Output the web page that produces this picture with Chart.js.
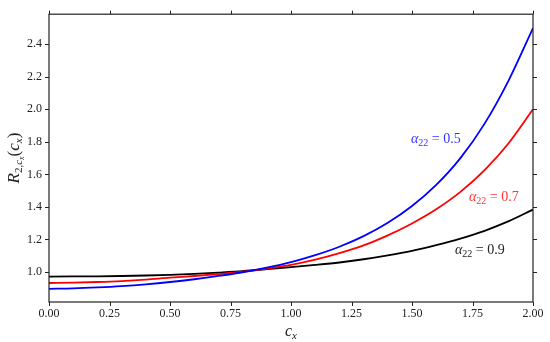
<!DOCTYPE html>
<html>
<head>
<meta charset="utf-8">
<script src="https://cdn.jsdelivr.net/npm/chart.js@4"></script>
<style>
  html, body { margin: 0; padding: 0; background: #fff; }
  #c { display: block; }
</style>
</head>
<body>
<canvas id="c" width="550" height="342"></canvas>
<script>
// values
const cx = [0, 0.1, 0.2, 0.3, 0.4, 0.5, 0.6, 0.7, 0.8, 0.9, 1.0,
            1.1, 1.2, 1.3, 1.4, 1.5, 1.6, 1.7, 1.8, 1.9, 2.0];
const r05 = [0.896, 0.899, 0.905, 0.913, 0.924, 0.938, 0.955, 0.975, 0.998, 1.026, 1.060,
             1.103, 1.155, 1.220, 1.302, 1.405, 1.535, 1.700, 1.912, 2.180, 2.500];
const r07 = [0.932, 0.934, 0.938, 0.944, 0.953, 0.965, 0.975, 0.987, 1.001, 1.020, 1.043,
             1.075, 1.115, 1.163, 1.225, 1.298, 1.385, 1.492, 1.626, 1.793, 2.000];
const r09 = [0.971, 0.972, 0.973, 0.975, 0.978, 0.982, 0.988, 0.996, 1.005, 1.017, 1.030,
             1.043, 1.058, 1.078, 1.102, 1.130, 1.165, 1.205, 1.253, 1.312, 1.383];
const xTicks = [0, 0.25, 0.5, 0.75, 1.0, 1.25, 1.5, 1.75, 2.0];
const yTicks = [1.0, 1.2, 1.4, 1.6, 1.8, 2.0, 2.2, 2.4];

const serif = '"Liberation Serif", "DejaVu Serif", serif';

function pts(ys) {
  return cx.map((x, i) => ({ x: x, y: ys[i] }));
}

// draw a run of text pieces (font, dy) starting at x,y
function rich(ctx, parts, x, y, align) {
  let w = 0;
  parts.forEach(p => { ctx.font = p.f; w += ctx.measureText(p.t).width; });
  let cur = align === 'center' ? x - w / 2 : x;
  ctx.textBaseline = 'alphabetic';
  ctx.textAlign = 'left';
  parts.forEach(p => {
    ctx.font = p.f;
    ctx.fillText(p.t, cur, y + (p.dy || 0));
    cur += ctx.measureText(p.t).width;
  });
}

const frame = {
  id: 'frame',
  afterDraw(chart) {
    const ctx = chart.ctx;
    const a = chart.chartArea;
    const sx = chart.scales.x, sy = chart.scales.y;
    ctx.save();
    ctx.strokeStyle = '#222';
    ctx.lineWidth = 1.2;
    ctx.strokeRect(a.left, a.top, a.right - a.left, a.bottom - a.top);
    ctx.lineWidth = 1;
    ctx.beginPath();
    sx.ticks.forEach(t => {
      const p = Math.round(sx.getPixelForValue(t.value)) + 0.5;
      ctx.moveTo(p, a.bottom); ctx.lineTo(p, a.bottom + 4);
      ctx.moveTo(p, a.top); ctx.lineTo(p, a.top - 3.5);
    });
    sy.ticks.forEach(t => {
      const p = Math.round(sy.getPixelForValue(t.value)) + 0.5;
      ctx.moveTo(a.left, p); ctx.lineTo(a.left - 4, p);
      ctx.moveTo(a.right, p); ctx.lineTo(a.right + 4, p);
    });
    ctx.stroke();

    // axis titles
    ctx.fillStyle = '#222';
    rich(ctx, [
      { t: 'c', f: 'italic 16px ' + serif },
      { t: 'x', f: 'italic 11px ' + serif, dy: 3 }
    ], (a.left + a.right) / 2, 336, 'center');

    ctx.save();
    ctx.translate(19, (a.top + a.bottom) / 2);
    ctx.rotate(-Math.PI / 2);
    rich(ctx, [
      { t: 'R', f: 'italic 17px ' + serif },
      { t: '2,', f: '11px ' + serif, dy: 3 },
      { t: 'c', f: 'italic 11px ' + serif, dy: 3 },
      { t: 'x', f: 'italic 8px ' + serif, dy: 5 },
      { t: '(', f: '17px ' + serif },
      { t: 'c', f: 'italic 17px ' + serif },
      { t: 'x', f: 'italic 11px ' + serif, dy: 3 },
      { t: ')', f: '17px ' + serif }
    ], 0, 0, 'center');
    ctx.restore();

    // curve labels
    const labels = [
      { v: '0.5', c: '#3333ff', x: 411, y: 143 },
      { v: '0.7', c: '#ff3333', x: 469, y: 201 },
      { v: '0.9', c: '#222', x: 455, y: 254 }
    ];
    labels.forEach(l => {
      ctx.fillStyle = l.c;
      rich(ctx, [
        { t: '\u03b1', f: 'italic 14px ' + serif },
        { t: '22', f: '10px ' + serif, dy: 3 },
        { t: ' = ' + l.v, f: '14px ' + serif }
      ], l.x, l.y, 'left');
    });
    ctx.restore();
  }
};

new Chart(document.getElementById('c'), {
  type: 'line',
  data: {
    datasets: [
      { data: pts(r05), borderColor: '#0000ff' },
      { data: pts(r07), borderColor: '#ff0000' },
      { data: pts(r09), borderColor: '#000000' }
    ]
  },
  options: {
    responsive: false,
    animation: false,
    layout: { padding: { top: 9, right: 17, left: 0, bottom: 0 } },
    elements: {
      line: { borderWidth: 1.8, cubicInterpolationMode: 'monotone', fill: false },
      point: { radius: 0 }
    },
    plugins: { legend: { display: false }, tooltip: { enabled: false } },
    scales: {
      x: {
        type: 'linear',
        min: 0,
        max: 2,
        afterBuildTicks: s => { s.ticks = xTicks.map(v => ({ value: v })); },
        afterFit: s => { s.height = 40; },
        grid: { display: false, drawTicks: false },
        border: { display: false },
        ticks: {
          padding: 5,
          color: '#222',
          font: { family: serif, size: 12 },
          maxRotation: 0,
          callback: v => Number(v).toFixed(2)
        }
      },
      y: {
        type: 'linear',
        min: 0.815,
        max: 2.585,
        afterBuildTicks: s => { s.ticks = yTicks.map(v => ({ value: v })); },
        afterFit: s => { s.width = 49; },
        grid: { display: false, drawTicks: false },
        border: { display: false },
        ticks: {
          padding: 7,
          color: '#222',
          font: { family: serif, size: 12 },
          callback: v => Number(v).toFixed(1)
        }
      }
    }
  },
  plugins: [frame]
});
</script>
</body>
</html>
